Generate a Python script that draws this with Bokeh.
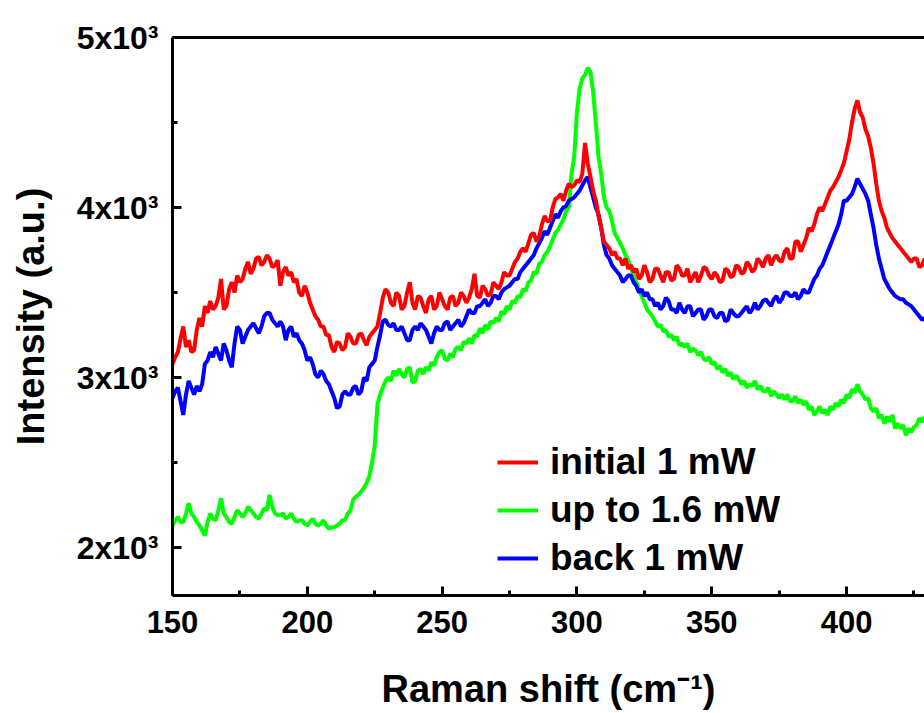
from bokeh.plotting import figure
from bokeh.models import FixedTicker, LinearAxis, Legend, LegendItem, Range1d, ColumnDataSource
from bokeh.embed import file_html
from bokeh.resources import INLINE

# Raman shift (cm^-1), common grid for all three spectra: 150 ... 429
raman_shift = list(range(150, 430))

initial_1mW = [
    3080, 3120, 3150, 3230, 3300, 3180, 3220, 3150, 3160, 3280,
    3350, 3300, 3420, 3380, 3450, 3400, 3420, 3470, 3580, 3400,
    3420, 3520, 3560, 3500, 3600, 3560, 3580, 3640, 3680, 3610,
    3640, 3700, 3710, 3660, 3680, 3720, 3700, 3650, 3660, 3690,
    3540, 3620, 3650, 3600, 3620, 3560, 3580, 3500, 3480, 3540,
    3500, 3440, 3400, 3360, 3340, 3300, 3300, 3250, 3250, 3180,
    3150, 3210, 3200, 3160, 3180, 3260, 3240, 3200, 3200, 3250,
    3260, 3220, 3190, 3240, 3260, 3280, 3300, 3380, 3470, 3520,
    3500, 3440, 3420, 3500, 3480, 3400, 3420, 3500, 3560, 3440,
    3400, 3480, 3470, 3420, 3380, 3460, 3480, 3400, 3420, 3500,
    3460, 3420, 3400, 3470, 3480, 3420, 3440, 3500, 3480, 3440,
    3470, 3520, 3610, 3480, 3470, 3540, 3520, 3480, 3490, 3560,
    3540, 3520, 3560, 3620, 3600, 3600, 3640, 3680, 3700, 3740,
    3760, 3740, 3790, 3840, 3850, 3800, 3830, 3900, 3950, 3920,
    3920, 4000, 4050, 4060, 4080, 4040, 4100, 4140, 4120, 4130,
    4160, 4150, 4200, 4380, 4260, 4180, 4100, 4040, 3950, 3880,
    3800, 3780, 3760, 3720, 3740, 3700, 3700, 3660, 3700, 3640,
    3660, 3620, 3640, 3580, 3600, 3660, 3620, 3560, 3580, 3640,
    3640, 3600, 3560, 3620, 3620, 3570, 3580, 3660, 3640, 3600,
    3600, 3640, 3560, 3590, 3620, 3560, 3600, 3650, 3640, 3600,
    3580, 3620, 3600, 3560, 3570, 3640, 3630, 3590, 3600, 3660,
    3650, 3610, 3620, 3680, 3660, 3620, 3640, 3700, 3680, 3650,
    3700, 3720, 3660, 3700, 3720, 3690, 3680, 3740, 3760, 3700,
    3700, 3800, 3800, 3740, 3780, 3820, 3880, 3860, 3900, 3960,
    4000, 3980, 4020, 4060, 4100, 4120, 4150, 4180, 4220, 4260,
    4330, 4400, 4500, 4580, 4630, 4560, 4530, 4460, 4420, 4350,
    4260, 4140, 4040, 3980, 3940, 3880, 3850, 3820, 3800, 3780,
    3760, 3740, 3720, 3700, 3680, 3700, 3700, 3650, 3660, 3700,
]

up_to_1_6mW = [
    2130, 2160, 2180, 2150, 2150, 2200, 2260, 2200, 2180, 2150,
    2130, 2100, 2070, 2150, 2200, 2170, 2160, 2220, 2290, 2200,
    2180, 2150, 2140, 2180, 2220, 2200, 2180, 2200, 2240, 2220,
    2200, 2180, 2170, 2200, 2230, 2220, 2310, 2240, 2200, 2190,
    2190, 2200, 2170, 2180, 2200, 2170, 2150, 2160, 2160, 2140,
    2130, 2150, 2170, 2140, 2130, 2140, 2160, 2130, 2110, 2120,
    2120, 2130, 2140, 2160, 2160, 2200, 2220, 2280, 2300, 2310,
    2330, 2350, 2380, 2420, 2500, 2600, 2840, 2900, 2940, 2980,
    3000, 2980, 3040, 3010, 3050, 3020, 3000, 3050, 3060, 2970,
    2980, 3040, 3050, 3020, 3060, 3040, 3090, 3070, 3120, 3150,
    3160, 3110, 3100, 3140, 3120, 3170, 3180, 3160, 3210, 3200,
    3230, 3200, 3250, 3240, 3290, 3260, 3310, 3280, 3330, 3320,
    3350, 3330, 3390, 3370, 3420, 3400, 3450, 3440, 3480, 3470,
    3520, 3510, 3560, 3570, 3620, 3610, 3670, 3680, 3720, 3740,
    3770, 3810, 3850, 3870, 3900, 3930, 3980, 4000, 4200, 4300,
    4560, 4700, 4760, 4780, 4820, 4800, 4680, 4500, 4300, 4200,
    4060, 4000, 3980, 3920, 3850, 3820, 3790, 3760, 3720, 3690,
    3650, 3600, 3560, 3520, 3480, 3440, 3400, 3380, 3360, 3330,
    3300, 3310, 3270, 3280, 3240, 3250, 3220, 3240, 3190, 3200,
    3180, 3200, 3150, 3170, 3160, 3130, 3150, 3110, 3100, 3120,
    3080, 3090, 3050, 3070, 3030, 3050, 3010, 3030, 2990, 3010,
    2990, 2960, 2980, 2940, 2960, 2950, 2980, 2930, 2950, 2920,
    2920, 2940, 2890, 2920, 2900, 2880, 2900, 2870, 2900, 2860,
    2860, 2890, 2850, 2870, 2840, 2860, 2810, 2830, 2780, 2800,
    2830, 2790, 2810, 2780, 2830, 2810, 2850, 2830, 2870, 2850,
    2900, 2880, 2930, 2910, 2960, 2920, 2900, 2870, 2880, 2820,
    2800, 2820, 2760, 2780, 2730, 2770, 2740, 2780, 2700, 2730,
    2700, 2720, 2660, 2700, 2680, 2710, 2720, 2760, 2740, 2770,
]

back_1mW = [
    2880, 2920, 2940, 2860, 2780, 2900, 2980, 2940, 2900, 2950,
    2920, 2960, 3080, 3100, 3150, 3120, 3180, 3140, 3100, 3200,
    3160, 3100, 3060, 3200, 3300, 3280, 3200, 3240, 3280, 3300,
    3320, 3290, 3260, 3300, 3360, 3380, 3380, 3340, 3320, 3300,
    3330, 3300, 3220, 3280, 3300, 3240, 3260, 3220, 3200, 3160,
    3100, 3120, 3080, 3020, 3000, 3040, 3020, 2980, 2960, 2920,
    2880, 2820, 2830, 2900, 2920, 2900, 2900, 2940, 2950, 2900,
    2920, 3000, 2980, 3060, 3080, 3100, 3180, 3250, 3330, 3340,
    3310, 3300, 3320, 3280, 3280, 3300, 3260, 3220, 3220, 3280,
    3300, 3280, 3320, 3300, 3280, 3240, 3200, 3260, 3300, 3280,
    3280, 3320, 3330, 3280, 3300, 3320, 3340, 3300, 3320, 3360,
    3400, 3380, 3380, 3420, 3420, 3440, 3460, 3420, 3440, 3480,
    3480, 3460, 3500, 3520, 3530, 3540, 3560, 3580, 3580, 3620,
    3640, 3660, 3680, 3700, 3720, 3760, 3790, 3820, 3860, 3840,
    3880, 3920, 3960, 3940, 3980, 4000, 4010, 4040, 4050, 4060,
    4080, 4100, 4130, 4160, 4180, 4120, 4060, 4000, 3960, 3880,
    3780, 3720, 3700, 3660, 3640, 3620, 3600, 3560, 3580, 3600,
    3600, 3560, 3540, 3500, 3520, 3480, 3500, 3460, 3460, 3420,
    3440, 3400, 3420, 3470, 3450, 3400, 3400, 3380, 3440, 3400,
    3380, 3420, 3420, 3360, 3380, 3400, 3400, 3340, 3360, 3400,
    3400, 3360, 3350, 3380, 3380, 3330, 3340, 3400, 3380, 3360,
    3360, 3380, 3400, 3420, 3380, 3400, 3440, 3400, 3420, 3450,
    3460, 3440, 3420, 3460, 3480, 3440, 3460, 3500, 3500, 3480,
    3480, 3500, 3460, 3480, 3520, 3500, 3500, 3540, 3580, 3600,
    3640, 3660, 3700, 3740, 3780, 3820, 3860, 3900, 3960, 4040,
    4040, 4060, 4080, 4120, 4170, 4140, 4110, 4080, 4040, 3960,
    3880, 3780, 3700, 3640, 3580, 3550, 3520, 3500, 3480, 3470,
    3460, 3460, 3440, 3430, 3420, 3400, 3380, 3360, 3340, 3350,
]

x_major = [150, 200, 250, 300, 350, 400, 450]
x_minor = [175, 225, 275, 325, 375, 425]
y_major = [2000, 3000, 4000, 5000]
y_minor = [2500, 3500, 4500]
y_labels = ["2x10³", "3x10³", "4x10³", "5x10³"]

series_names = ["initial 1 mW", "up to 1.6 mW", "back 1 mW"]
series_colors = ["#FF0000", "#00FF00", "#0000FF"]

src = ColumnDataSource(dict(x=raman_shift, r=initial_1mW, g=up_to_1_6mW, b=back_1mW))

FONT = "Liberation Sans"

p = figure(frame_width=752, frame_height=558,
           x_range=Range1d(150, 428.9), y_range=Range1d(1718, 5000),
           output_backend="svg", toolbar_location=None,
           min_border_left=172, min_border_right=0, min_border_top=37,
           min_border_bottom=118, outline_line_color=None)
p.xgrid.grid_line_color = None
p.ygrid.grid_line_color = None

rg = p.line("x", "g", source=src, line_color=series_colors[1], line_width=4)
rb = p.line("x", "b", source=src, line_color=series_colors[2], line_width=4)
rr = p.line("x", "r", source=src, line_color=series_colors[0], line_width=4)

for ax in (p.xaxis[0], p.yaxis[0]):
    ax.axis_line_width = 3
    ax.major_tick_line_width = 3
    ax.minor_tick_line_width = 3
    ax.major_tick_in = 9
    ax.major_tick_out = 0
    ax.minor_tick_in = 5
    ax.minor_tick_out = 0
    ax.major_label_text_font = FONT
    ax.major_label_text_font_style = "bold"
    ax.major_label_text_color = "black"
    ax.axis_label_text_font = FONT
    ax.axis_label_text_font_style = "bold"
    ax.axis_label_text_font_size = "38px"
    ax.axis_label_text_color = "black"

p.xaxis.ticker = FixedTicker(ticks=x_major, minor_ticks=x_minor)
p.yaxis.ticker = FixedTicker(ticks=y_major, minor_ticks=y_minor)
p.yaxis.major_label_overrides = {v: s for v, s in zip(y_major, y_labels)}
p.xaxis.major_label_text_font_size = "31px"
p.yaxis.major_label_text_font_size = "32px"
p.xaxis.major_label_standoff = 15
p.yaxis.major_label_standoff = 14
p.xaxis.axis_label = "Raman shift (cm⁻¹)"
p.yaxis.axis_label = "Intensity (a.u.)"
p.xaxis.axis_label_standoff = 32
p.yaxis.axis_label_standoff = 22

top = LinearAxis(ticker=FixedTicker(ticks=[]), axis_line_width=3,
                 major_tick_line_color=None, minor_tick_line_color=None,
                 major_label_text_font_size="0px")
p.add_layout(top, "above")

legend = Legend(items=[LegendItem(label=series_names[0], renderers=[rr]),
                       LegendItem(label=series_names[1], renderers=[rg]),
                       LegendItem(label=series_names[2], renderers=[rb])],
                location=(325, 16), border_line_color=None,
                background_fill_alpha=0, padding=0, margin=0,
                glyph_width=41, glyph_height=42, label_height=42,
                spacing=6, label_standoff=12,
                label_text_font=FONT, label_text_font_style="bold",
                label_text_font_size="37px", label_text_color="black")
p.add_layout(legend)

open("out.html", "w").write(file_html(p, INLINE))
